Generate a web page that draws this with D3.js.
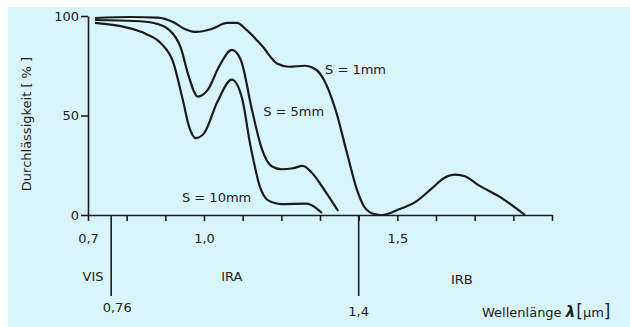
<!DOCTYPE html>
<html>
<head>
<meta charset="utf-8">
<script src="https://cdn.jsdelivr.net/npm/d3@7"></script>
<style>
  html, body { margin: 0; padding: 0; background: #fff; }
  svg { display: block; font-family: "DejaVu Sans", sans-serif; }
</style>
</head>
<body>
<div id="chart"></div>
<script>
const FRAME_WIDTH = 630;
const FRAME_HEIGHT = 327;

// wavelength in µm, transmission in %
const S1MM = [
  [0.718, 99], [0.81, 99.5], [0.88, 99.2], [0.92, 97], [0.95, 93.5],
  [0.98, 92], [1.02, 93.5], [1.06, 96.5], [1.085, 96.5], [1.11, 93],
  [1.15, 85], [1.19, 76], [1.22, 74.5], [1.26, 75], [1.29, 73],
  [1.31, 68], [1.34, 53], [1.37, 31], [1.395, 13], [1.415, 4],
  [1.44, 0.5], [1.46, 0], [1.5, 2.5], [1.55, 7], [1.59, 13.5],
  [1.62, 18.5], [1.65, 20.3], [1.675, 19.5], [1.71, 15], [1.77, 8.5],
  [1.83, 0],
];
const S5MM = [
  [0.718, 98], [0.82, 97.5], [0.87, 96.5], [0.91, 93], [0.94, 84],
  [0.96, 70], [0.984, 59.5], [1.01, 63], [1.04, 75], [1.072, 83],
  [1.095, 78], [1.125, 52], [1.15, 33], [1.175, 24.5], [1.2, 23],
  [1.23, 23.5], [1.255, 24.7], [1.28, 21], [1.315, 11.5], [1.347, 2],
];
const S10MM = [
  [0.718, 96.5], [0.796, 94.4], [0.85, 91], [0.89, 86], [0.92, 77],
  [0.945, 58], [0.962, 44], [0.979, 38.6], [1.0, 41], [1.035, 57],
  [1.072, 68], [1.098, 59], [1.12, 35], [1.145, 14], [1.165, 7.5],
  [1.2, 5.5], [1.265, 5.7], [1.29, 3.5], [1.305, 1],
];

const CURVE_LABELS = [
  { text: "S = 1mm", x: 1.313, y: 73 },
  { text: "S = 5mm", x: 1.153, y: 52 },
  { text: "S = 10mm", x: 0.943, y: 9 },
];

const X_TICKS = [0.7, 0.8, 0.9, 1.0, 1.1, 1.2, 1.3, 1.4, 1.5, 1.6, 1.7, 1.8, 1.9];
const X_TICK_LABELS = { 0.7: "0,7", 1.0: "1,0", 1.5: "1,5" };
const Y_TICKS = [0, 50, 100];

const BOUNDARIES = [0.76, 1.4];
const BOUNDARY_LABELS = ["0,76", "1,4"];
const REGIONS = [
  { name: "VIS", x: 0.713 },
  { name: "IRA", x: 1.072 },
  { name: "IRB", x: 1.667 },
];

const X_SCALE = d3.scaleLinear().domain([0.7, 1.9]).range([88, 552]);
const Y_SCALE = d3.scaleLinear().domain([0, 100]).range([215, 16]);
const AXIS_Y = Y_SCALE(0);
const INK = "#1b1b1b";

const FRAME = d3
  .select("#chart")
  .append("svg")
  .attr("width", FRAME_WIDTH)
  .attr("height", FRAME_HEIGHT);

// scanned paper background
FRAME.append("rect")
  .attr("x", 8)
  .attr("y", 7)
  .attr("width", FRAME_WIDTH - 8)
  .attr("height", FRAME_HEIGHT - 7)
  .attr("fill", "#d9f5fc");

// x axis
const xAxis = FRAME.append("g")
  .attr("transform", `translate(0,${AXIS_Y})`)
  .call(
    d3.axisBottom(X_SCALE)
      .tickValues(X_TICKS)
      .tickSize(6)
      .tickSizeOuter(0)
      .tickPadding(13)
      .tickFormat((d) => X_TICK_LABELS[d] || "")
  );

// y axis
const yAxis = FRAME.append("g")
  .attr("transform", `translate(${X_SCALE(0.7)},0)`)
  .call(
    d3.axisLeft(Y_SCALE)
      .tickValues(Y_TICKS)
      .tickSize(7)
      .tickSizeOuter(0)
      .tickPadding(2)
  );

[xAxis, yAxis].forEach((ax) => {
  ax.attr("font-family", "DejaVu Sans, sans-serif").attr("font-size", 13);
  ax.selectAll("path, line").attr("stroke", INK).attr("stroke-width", 1.6);
  ax.selectAll("text").attr("fill", INK);
});

// region boundaries below the axis
FRAME.selectAll(".boundary")
  .data(BOUNDARIES)
  .enter()
  .append("line")
  .attr("class", "boundary")
  .attr("x1", (d) => X_SCALE(d))
  .attr("x2", (d) => X_SCALE(d))
  .attr("y1", AXIS_Y)
  .attr("y2", 296)
  .attr("stroke", INK)
  .attr("stroke-width", 1.6);

FRAME.selectAll(".boundary-label")
  .data(BOUNDARIES)
  .enter()
  .append("text")
  .attr("class", "boundary-label")
  .attr("x", (d, i) => X_SCALE(d) + (i === 0 ? 6 : 0))
  .attr("y", (d, i) => (i === 0 ? 312 : 316))
  .attr("text-anchor", "middle")
  .attr("font-size", 13)
  .attr("fill", INK)
  .text((d, i) => BOUNDARY_LABELS[i]);

FRAME.selectAll(".region")
  .data(REGIONS)
  .enter()
  .append("text")
  .attr("class", "region")
  .attr("x", (d) => X_SCALE(d.x))
  .attr("y", (d, i) => (i === 2 ? 284 : 281))
  .attr("text-anchor", "middle")
  .attr("font-size", 13)
  .attr("fill", INK)
  .text((d) => d.name);

// curves
const line = d3
  .line()
  .x((d) => X_SCALE(d[0]))
  .y((d) => Y_SCALE(d[1]))
  .curve(d3.curveMonotoneX);

FRAME.selectAll(".curve")
  .data([S1MM, S5MM, S10MM])
  .enter()
  .append("path")
  .attr("class", "curve")
  .attr("d", line)
  .attr("fill", "none")
  .attr("stroke", INK)
  .attr("stroke-width", 2.2)
  .attr("stroke-linejoin", "round");

FRAME.selectAll(".curve-label")
  .data(CURVE_LABELS)
  .enter()
  .append("text")
  .attr("class", "curve-label")
  .attr("x", (d) => X_SCALE(d.x))
  .attr("y", (d) => Y_SCALE(d.y))
  .attr("dy", "0.35em")
  .attr("font-size", 13)
  .attr("fill", INK)
  .text((d) => d.text);

// axis titles
FRAME.append("text")
  .attr("transform", "translate(26,124) rotate(-90)")
  .attr("text-anchor", "middle")
  .attr("dy", "0.35em")
  .attr("font-size", 13)
  .attr("fill", INK)
  .text("Durchlässigkeit [ % ]");

const xTitle = FRAME.append("text")
  .attr("x", 482)
  .attr("y", 317)
  .attr("font-size", 13)
  .attr("fill", INK);
xTitle.append("tspan").text("Wellenlänge ");
xTitle.append("tspan").attr("font-weight", "bold").attr("font-style", "italic").attr("font-size", 15).text("λ");
xTitle.append("tspan").attr("font-size", 17).attr("dx", 1).text("[");
xTitle.append("tspan").text("µm");
xTitle.append("tspan").attr("font-size", 17).text("]");
</script>
</body>
</html>
